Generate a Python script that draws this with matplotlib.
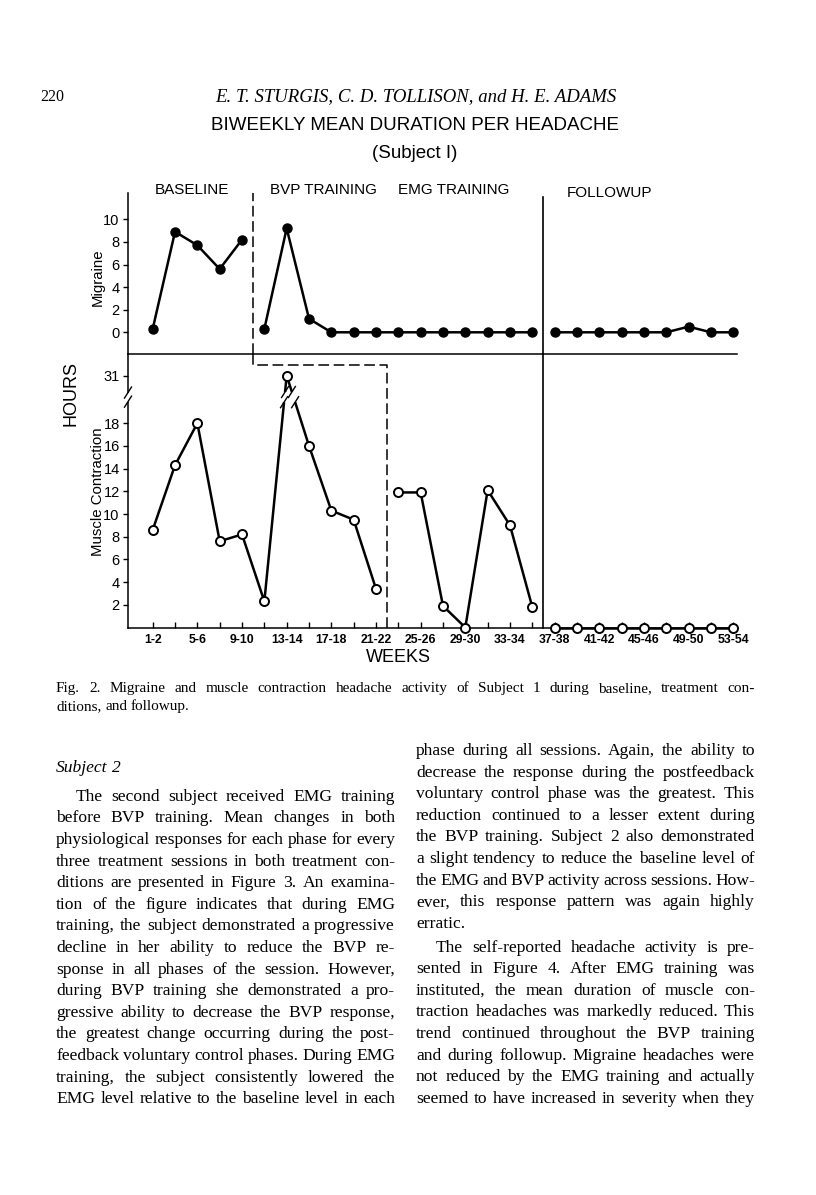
import matplotlib
matplotlib.use("Agg")
import matplotlib.pyplot as plt

W, H, DPI = 816, 1195, 100
SANS = ["Liberation Sans", "DejaVu Sans"]
SERIF = ["Liberation Serif", "DejaVu Serif"]

# ---------------- data ----------------
period_index = list(range(1, 28))          # 27 biweekly periods (weeks 1-2 ... 53-54)
week_labels = ["1-2", "5-6", "9-10", "13-14", "17-18", "21-22", "25-26",
               "29-30", "33-34", "37-38", "41-42", "45-46", "49-50", "53-54"]
week_label_index = [1, 3, 5, 7, 9, 11, 13, 15, 17, 19, 21, 23, 25, 27]
migraine = [0.3, 8.9, 7.7, 5.6, 8.2,
            0.3, 9.2, 1.2, 0, 0, 0, 0, 0,
            0, 0, 0, 0, 0,
            0, 0, 0, 0, 0, 0, 0.5, 0, 0]
muscle = [8.6, 14.3, 18.0, 7.6, 8.2, 2.3, 31.0, 16.0, 10.3, 9.5, 3.4,
          11.9, 11.9, 1.9, 0.0, 12.1, 9.0, 1.8,
          0, 0, 0, 0, 0, 0, 0, 0, 0]
migraine_phases = [(1, 5), (6, 18), (19, 27)]
muscle_phases = [(1, 11), (12, 18), (19, 27)]
migraine_yticks = [0, 2, 4, 6, 8, 10]
muscle_yticks = [2, 4, 6, 8, 10, 12, 14, 16, 18, 31]
phase_labels = ["BASELINE", "BVP TRAINING", "EMG TRAINING", "FOLLOWUP"]
migraine_phase_end = 5.5      # baseline end for migraine
muscle_phase_end = 11.5       # baseline end for muscle contraction
followup_start = 18.5

# broken axis for the lower panel
BREAK_AT = 20.3
BREAK_SHIFT = 8.8


def disp(v):
    return v - BREAK_SHIFT if v > 20 else v


def fx(x):
    return x / W


def fy(y):
    return 1 - y / H


fig = plt.figure(figsize=(W / DPI, H / DPI), dpi=DPI)
fig.patch.set_facecolor("white")
renderer = fig.canvas.get_renderer()

# ---------------- axes geometry (pixels) ----------------
L, R = 128, 737
TOP, SEP, BOT = 193, 354, 627.5
PX0, DX = 152.7, 22.33
xlim = (1 + (L - PX0) / DX, 1 + (R - PX0) / DX)
UP_ZERO, UP_SCALE = 332.3, 11.3
LO_SCALE = 11.35

ax1 = fig.add_axes([fx(L), fy(SEP), (R - L) / W, (SEP - TOP) / H])
ax2 = fig.add_axes([fx(L), fy(BOT), (R - L) / W, (BOT - SEP) / H])
up_ylim = (-(SEP - UP_ZERO) / UP_SCALE, (UP_ZERO - TOP) / UP_SCALE)
lo_ylim = (0, (BOT - SEP) / LO_SCALE)
for ax in (ax1, ax2):
    ax.set_xlim(*xlim)
    ax.patch.set_alpha(0)
    for s in ("top", "right"):
        ax.spines[s].set_visible(False)
    for s in ("left", "bottom"):
        ax.spines[s].set_linewidth(1.1)
ax1.set_ylim(*up_ylim)
ax2.set_ylim(*lo_ylim)

LW = 1.8
MS = 6.5
# migraine (filled)
for s, e in migraine_phases:
    ax1.plot(period_index[s - 1:e], migraine[s - 1:e], color="black", lw=LW,
             marker="o", ms=MS, mfc="black", mec="black", clip_on=False, zorder=4)
# muscle contraction (open)
for s, e in muscle_phases:
    ax2.plot(period_index[s - 1:e], [disp(v) for v in muscle[s - 1:e]], color="black",
             lw=LW, marker="o", ms=MS, mfc="white", mec="black", mew=1.4,
             clip_on=False, zorder=4)

# break marks on the lines that cross the axis break
sx, sy = 3.5 / DX, 5.5 / LO_SCALE
for s, e in muscle_phases:
    for i in range(s, e):
        ya, yb = disp(muscle[i - 1]), disp(muscle[i])
        if (ya - BREAK_AT) * (yb - BREAK_AT) < 0:
            xa, xb = period_index[i - 1], period_index[i]
            pts = []
            for yy in (BREAK_AT - 0.45, BREAK_AT + 0.45):
                pts.append((xa + (yy - ya) / (yb - ya) * (xb - xa), yy))
            ax2.plot([pts[0][0], pts[1][0]], [pts[0][1], pts[1][1]], color="white",
                     lw=3.5, zorder=5, solid_capstyle="butt")
            for px_, py_ in pts:
                ax2.plot([px_ - sx, px_ + sx], [py_ - sy, py_ + sy], color="black",
                         lw=1.0, zorder=6)
# y-axis break
x_ax = xlim[0]
ax2.plot([x_ax, x_ax], [BREAK_AT - 0.4, BREAK_AT + 0.4], color="white", lw=3,
         zorder=5, clip_on=False, solid_capstyle="butt")
for yy in (BREAK_AT - 0.4, BREAK_AT + 0.4):
    ax2.plot([x_ax - sx, x_ax + sx], [yy - sy, yy + sy], color="black", lw=1.0,
             zorder=6, clip_on=False)

# phase dividers
dash = (0, (7, 3))
ax1.plot([migraine_phase_end] * 2, list(up_ylim), color="black", lw=1.1,
         linestyle=dash, clip_on=False, zorder=2)
step_y = (BOT - 365.5) / LO_SCALE
ax2.plot([migraine_phase_end, migraine_phase_end, muscle_phase_end, muscle_phase_end],
         [lo_ylim[1], step_y, step_y, 0], color="black", lw=1.1, linestyle=dash,
         clip_on=False, zorder=2)
ax1.plot([followup_start] * 2, [(UP_ZERO - 197) / UP_SCALE, up_ylim[0]], color="black",
         lw=1.2, clip_on=False, zorder=2)
ax2.plot([followup_start] * 2, list(lo_ylim), color="black", lw=1.2, clip_on=False,
         zorder=2)

# ticks
ax1.set_xticks([])
ax1.set_yticks(migraine_yticks)
ax1.set_yticklabels([str(v) for v in migraine_yticks], family=SANS, fontsize=10.5)
ax1.tick_params(axis="y", direction="out", length=3.5, width=1.0, pad=2.5)
ax2.set_yticks([disp(v) for v in muscle_yticks])
ax2.set_yticklabels([str(v) for v in muscle_yticks], family=SANS, fontsize=10.5)
ax2.tick_params(axis="y", direction="out", length=3.5, width=1.0, pad=2.5)
ax2.set_xticks(period_index)
lab = {i: t for i, t in zip(week_label_index, week_labels)}
ax2.set_xticklabels([lab.get(i, "") for i in period_index], family=SANS,
                    fontsize=8.8, fontweight="bold")
ax2.tick_params(axis="x", direction="in", length=4, width=1.0, pad=4.5)

# axis labels
fig.text(fx(98), fy(277.5), "Migraine", rotation=90, ha="center", va="center",
         family=SANS, fontsize=10.8)
fig.text(fx(98), fy(492), "Muscle Contraction", rotation=90, ha="center", va="center",
         family=SANS, fontsize=10.8)
fig.text(fx(71), fy(393), "HOURS", rotation=90, ha="center", va="center",
         family=SANS, fontsize=13)
fig.text(fx(398), fy(658), "WEEKS", ha="center", va="center", family=SANS,
         fontsize=13)

# phase labels
for t, (x, y) in zip(phase_labels, [(191.7, 190), (323.3, 190), (453.7, 190),
                                     (609.7, 192.5)]):
    fig.text(fx(x), fy(y), t, ha="center", va="center", family=SANS, fontsize=11)

# titles
fig.text(fx(415), fy(125), "BIWEEKLY MEAN DURATION PER HEADACHE", ha="center",
         va="center", family=SANS, fontsize=13.5)
fig.text(fx(415), fy(153), "(Subject I)", ha="center", va="center", family=SANS,
         fontsize=13.5)

# running head
fig.text(fx(40), fy(101), "220", ha="left", va="baseline", family=SERIF, fontsize=11.5)
fig.text(fx(416), fy(101), "E. T. STURGIS, C. D. TOLLISON, and H. E. ADAMS",
         ha="center", va="baseline", family=SERIF, style="italic", fontsize=13.5)


# ---------------- justified text ----------------
def put_line(line, x0, x1, y, fs, style="normal", justify=True):
    words = line.split()
    while True:
        texts, widths = [], []
        for w in words:
            t = fig.text(0, 0, w, fontsize=fs, family=SERIF, style=style,
                         ha="left", va="baseline")
            widths.append(t.get_window_extent(renderer).width)
            texts.append(t)
        n = len(words)
        if justify and n > 1:
            gap = (x1 - x0 - sum(widths)) / (n - 1)
            if gap < 3.0:
                for t in texts:
                    t.remove()
                fs -= 0.2
                continue
        else:
            gap = fs * DPI / 72 * 0.25
        break
    x = x0
    for t, w in zip(texts, widths):
        t.set_position((fx(x), fy(y)))
        x += w + gap


BODY_FS = 12.6
CAP_FS = 11.0
LS = 21.6
LX0, LX1 = 56, 395
RX0, RX1 = 416, 755
IND = 20

# caption
put_line("Fig. 2. Migraine and muscle contraction headache activity of Subject 1 "
         "during baseline, treatment con-", LX0, RX1, 692, CAP_FS)
put_line("ditions, and followup.", LX0, RX1, 710, CAP_FS, justify=False)

left_lines = [
    "The second subject received EMG training",
    "before BVP training. Mean changes in both",
    "physiological responses for each phase for every",
    "three treatment sessions in both treatment con-",
    "ditions are presented in Figure 3. An examina-",
    "tion of the figure indicates that during EMG",
    "training, the subject demonstrated a progressive",
    "decline in her ability to reduce the BVP re-",
    "sponse in all phases of the session. However,",
    "during BVP training she demonstrated a pro-",
    "gressive ability to decrease the BVP response,",
    "the greatest change occurring during the post-",
    "feedback voluntary control phases. During EMG",
    "training, the subject consistently lowered the",
    "EMG level relative to the baseline level in each",
]
right_par1 = [
    "phase during all sessions. Again, the ability to",
    "decrease the response during the postfeedback",
    "voluntary control phase was the greatest. This",
    "reduction continued to a lesser extent during",
    "the BVP training. Subject 2 also demonstrated",
    "a slight tendency to reduce the baseline level of",
    "the EMG and BVP activity across sessions. How-",
    "ever, this response pattern was again highly",
    "erratic.",
]
right_par2 = [
    "The self-reported headache activity is pre-",
    "sented in Figure 4. After EMG training was",
    "instituted, the mean duration of muscle con-",
    "traction headaches was markedly reduced. This",
    "trend continued throughout the BVP training",
    "and during followup. Migraine headaches were",
    "not reduced by the EMG training and actually",
    "seemed to have increased in severity when they",
]

put_line("Subject 2", LX0, LX1, 771.5, BODY_FS, style="italic", justify=False)
for i, line in enumerate(left_lines):
    x0 = LX0 + (IND if i == 0 else 0)
    put_line(line, x0, LX1, 800.7 + LS * i, BODY_FS)
for i, line in enumerate(right_par1):
    put_line(line, RX0, RX1, 755 + LS * i, BODY_FS,
             justify=(i < len(right_par1) - 1))
for i, line in enumerate(right_par2):
    x0 = RX0 + (IND if i == 0 else 0)
    put_line(line, x0, RX1, 951.7 + LS * i, BODY_FS)

fig.savefig("out.png", dpi=DPI, facecolor="white")
